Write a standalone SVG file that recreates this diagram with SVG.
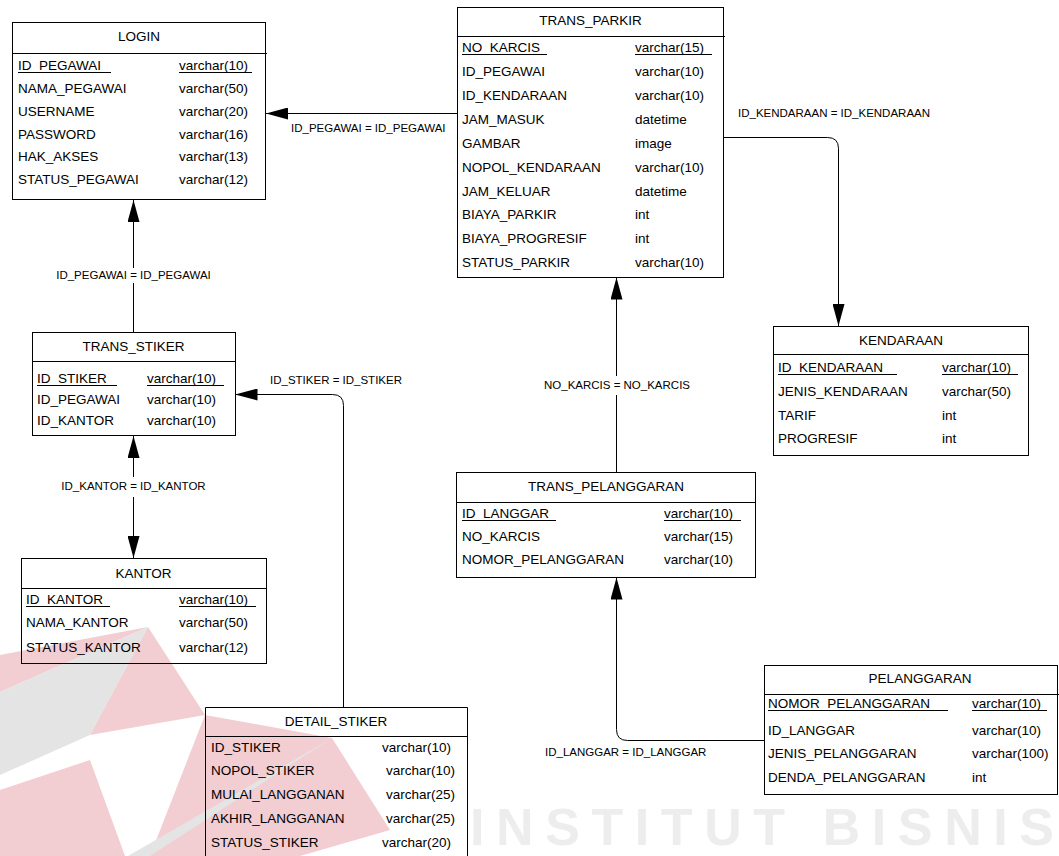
<svg xmlns="http://www.w3.org/2000/svg" width="1059" height="856" viewBox="0 0 1059 856">
  <style>
    .t { font-family: "Liberation Sans", Arial, sans-serif; font-size: 13.5px; fill: #000; }
    .c { text-anchor: middle; }
    .lbl { font-family: "Liberation Sans", Arial, sans-serif; font-size: 11.5px; fill: #000; }
    .box { fill: none; stroke: #000; stroke-width: 1; }
    .sep { fill: none; stroke: #000; stroke-width: 1; }
    .pk { fill: none; stroke: #000; stroke-width: 1; }
    .ln { fill: none; stroke: #000; stroke-width: 1; }
    .wm-red { fill: #f2cdd1; }
    .wm-grey { fill: #e4e4e4; }
    .wm-text { font-family: "Liberation Sans", Arial, sans-serif; font-weight: bold; font-size: 52px; fill: #ededed; }
  </style>
  <defs>
    <marker id="ah" viewBox="0 0 22 12" refX="22" refY="6" markerWidth="22" markerHeight="12" markerUnits="userSpaceOnUse" orient="auto">
      <path d="M0,0 L22,6 L0,12 Z" fill="#000"/>
    </marker>
  </defs>
  <rect width="1059" height="856" fill="#fff"/>

  <!-- background emblem -->
  <g id="watermark">
    <polygon class="wm-red" points="0,655 148,627 0,692"/>
    <polygon class="wm-grey" points="0,692 148,627 90,735 0,775"/>
    <polygon class="wm-red" points="148,627 205,715 90,735"/>
    <polygon class="wm-red" points="205,715 332,738 390,830 300,856 150,856"/>
    <polygon class="wm-grey" points="332,738 150,856 128,856"/>
    <polygon class="wm-red" points="0,790 90,760 125,856 0,856"/>
    <text class="wm-text" x="470" y="845" textLength="584" lengthAdjust="spacing">INSTITUT BISNIS</text>
  </g>

  <g id="LOGIN">
    <rect class="box" x="12.5" y="22.5" width="253" height="177"/>
    <path class="sep" d="M12.5,53.5 H267"/>
    <text class="t c" x="139" y="41">LOGIN</text>
    <text class="t" x="18" y="70">ID_PEGAWAI</text><text class="t" x="179" y="70">varchar(10)</text>
    <path class="pk" d="M18,72.5 H111 M179,72.5 H252"/>
    <text class="t" x="18" y="93">NAMA_PEGAWAI</text><text class="t" x="179" y="93">varchar(50)</text>
    <text class="t" x="18" y="115.5">USERNAME</text><text class="t" x="179" y="115.5">varchar(20)</text>
    <text class="t" x="18" y="138.5">PASSWORD</text><text class="t" x="179" y="138.5">varchar(16)</text>
    <text class="t" x="18" y="161">HAK_AKSES</text><text class="t" x="179" y="161">varchar(13)</text>
    <text class="t" x="18" y="184">STATUS_PEGAWAI</text><text class="t" x="179" y="184">varchar(12)</text>
  </g>

  <g id="TRANS_PARKIR">
    <rect class="box" x="457.5" y="7.5" width="266" height="270"/>
    <path class="sep" d="M457.5,36.5 H725"/>
    <text class="t c" x="590.5" y="25">TRANS_PARKIR</text>
    <text class="t" x="462" y="52">NO_KARCIS</text><text class="t" x="635" y="52">varchar(15)</text>
    <path class="pk" d="M462,54.5 H547 M635,54.5 H712"/>
    <text class="t" x="462" y="76">ID_PEGAWAI</text><text class="t" x="635" y="76">varchar(10)</text>
    <text class="t" x="462" y="100">ID_KENDARAAN</text><text class="t" x="635" y="100">varchar(10)</text>
    <text class="t" x="462" y="124">JAM_MASUK</text><text class="t" x="635" y="124">datetime</text>
    <text class="t" x="462" y="148">GAMBAR</text><text class="t" x="635" y="148">image</text>
    <text class="t" x="462" y="171.5">NOPOL_KENDARAAN</text><text class="t" x="635" y="171.5">varchar(10)</text>
    <text class="t" x="462" y="195.5">JAM_KELUAR</text><text class="t" x="635" y="195.5">datetime</text>
    <text class="t" x="462" y="219">BIAYA_PARKIR</text><text class="t" x="635" y="219">int</text>
    <text class="t" x="462" y="243">BIAYA_PROGRESIF</text><text class="t" x="635" y="243">int</text>
    <text class="t" x="462" y="267">STATUS_PARKIR</text><text class="t" x="635" y="267">varchar(10)</text>
  </g>

  <g id="KENDARAAN">
    <rect class="box" x="773.5" y="326.5" width="255" height="129"/>
    <path class="sep" d="M773.5,354.5 H1028.5"/>
    <text class="t c" x="901" y="345">KENDARAAN</text>
    <text class="t" x="778" y="372">ID_KENDARAAN</text><text class="t" x="942" y="372">varchar(10)</text>
    <path class="pk" d="M778,374.5 H897 M942,374.5 H1018"/>
    <text class="t" x="778" y="396">JENIS_KENDARAAN</text><text class="t" x="942" y="396">varchar(50)</text>
    <text class="t" x="778" y="420">TARIF</text><text class="t" x="942" y="420">int</text>
    <text class="t" x="778" y="443">PROGRESIF</text><text class="t" x="942" y="443">int</text>
  </g>

  <g id="TRANS_STIKER">
    <rect class="box" x="32.5" y="332.5" width="203" height="103"/>
    <path class="sep" d="M32.5,361.5 H235.5"/>
    <text class="t c" x="133.5" y="351">TRANS_STIKER</text>
    <text class="t" x="37" y="383">ID_STIKER</text><text class="t" x="147" y="383">varchar(10)</text>
    <path class="pk" d="M37,385.5 H117 M147,385.5 H224"/>
    <text class="t" x="37" y="404">ID_PEGAWAI</text><text class="t" x="147" y="404">varchar(10)</text>
    <text class="t" x="37" y="425">ID_KANTOR</text><text class="t" x="147" y="425">varchar(10)</text>
  </g>

  <g id="KANTOR">
    <rect class="box" x="21.5" y="558.5" width="245" height="105"/>
    <path class="sep" d="M21.5,588.5 H266.5"/>
    <text class="t c" x="143.5" y="577.5">KANTOR</text>
    <text class="t" x="26" y="604">ID_KANTOR</text><text class="t" x="179" y="604">varchar(10)</text>
    <path class="pk" d="M26,606.5 H110 M179,606.5 H256"/>
    <text class="t" x="26" y="627">NAMA_KANTOR</text><text class="t" x="179" y="627">varchar(50)</text>
    <text class="t" x="26" y="652">STATUS_KANTOR</text><text class="t" x="179" y="652">varchar(12)</text>
  </g>

  <g id="TRANS_PELANGGARAN">
    <rect class="box" x="456.5" y="472.5" width="299" height="105"/>
    <path class="sep" d="M456.5,502.5 H755.5"/>
    <text class="t c" x="606" y="491">TRANS_PELANGGARAN</text>
    <text class="t" x="462" y="518">ID_LANGGAR</text><text class="t" x="664" y="518">varchar(10)</text>
    <path class="pk" d="M462,520.5 H556 M664,520.5 H741"/>
    <text class="t" x="462" y="541">NO_KARCIS</text><text class="t" x="664" y="541">varchar(15)</text>
    <text class="t" x="462" y="564">NOMOR_PELANGGARAN</text><text class="t" x="664" y="564">varchar(10)</text>
  </g>

  <g id="PELANGGARAN">
    <rect class="box" x="764.5" y="665.5" width="293" height="129"/>
    <path class="sep" d="M764.5,694.5 H1059"/>
    <text class="t c" x="920" y="683">PELANGGARAN</text>
    <text class="t" x="768" y="708">NOMOR_PELANGGARAN</text><text class="t" x="972" y="708">varchar(10)</text>
    <path class="pk" d="M768,710.5 H948 M972,710.5 H1047"/>
    <text class="t" x="768" y="735">ID_LANGGAR</text><text class="t" x="972" y="735">varchar(10)</text>
    <text class="t" x="768" y="758">JENIS_PELANGGARAN</text><text class="t" x="972" y="758">varchar(100)</text>
    <text class="t" x="768" y="781.5">DENDA_PELANGGARAN</text><text class="t" x="972" y="781.5">int</text>
  </g>

  <g id="DETAIL_STIKER">
    <path class="box" d="M205.5,870 V707.5 H467.5 V870"/>
    <path class="sep" d="M205.5,736.5 H467.5"/>
    <text class="t c" x="336" y="725.5">DETAIL_STIKER</text>
    <text class="t" x="211" y="751.5">ID_STIKER</text><text class="t" x="382" y="751.5">varchar(10)</text>
    <text class="t" x="211" y="775">NOPOL_STIKER</text><text class="t" x="386" y="775">varchar(10)</text>
    <text class="t" x="211" y="798.5">MULAI_LANGGANAN</text><text class="t" x="386" y="798.5">varchar(25)</text>
    <text class="t" x="211" y="823">AKHIR_LANGGANAN</text><text class="t" x="386" y="823">varchar(25)</text>
    <text class="t" x="211" y="846.5">STATUS_STIKER</text><text class="t" x="382" y="846.5">varchar(20)</text>
  </g>

  <g id="connectors">
    <path class="ln" d="M457,113.5 H266" marker-end="url(#ah)"/>
    <text class="lbl" x="291" y="132">ID_PEGAWAI = ID_PEGAWAI</text>

    <path class="ln" d="M133.5,333 V283"/>
    <path class="ln" d="M133.5,268 V200" marker-end="url(#ah)"/>
    <text class="lbl c" x="133.5" y="279">ID_PEGAWAI = ID_PEGAWAI</text>

    <path class="ln" d="M724,137.5 H827.5 Q838.5,137.5 838.5,148.5 V326" marker-end="url(#ah)"/>
    <text class="lbl" x="738" y="117">ID_KENDARAAN = ID_KENDARAAN</text>

    <path class="ln" d="M343.5,707 V405.5 Q343.5,394.5 332.5,394.5 H235.5" marker-end="url(#ah)"/>
    <text class="lbl" x="270" y="384">ID_STIKER = ID_STIKER</text>

    <path class="ln" d="M133.5,477 V436" marker-end="url(#ah)"/>
    <path class="ln" d="M133.5,497 V558" marker-end="url(#ah)"/>
    <text class="lbl c" x="133.5" y="490">ID_KANTOR = ID_KANTOR</text>

    <path class="ln" d="M616.5,376 V277.5" marker-end="url(#ah)"/>
    <path class="ln" d="M616.5,395 V472"/>
    <text class="lbl c" x="617" y="389">NO_KARCIS = NO_KARCIS</text>

    <path class="ln" d="M764,740.5 H627.5 Q616.5,740.5 616.5,729.5 V577.5" marker-end="url(#ah)"/>
    <text class="lbl" x="545" y="756">ID_LANGGAR = ID_LANGGAR</text>
  </g>
</svg>
